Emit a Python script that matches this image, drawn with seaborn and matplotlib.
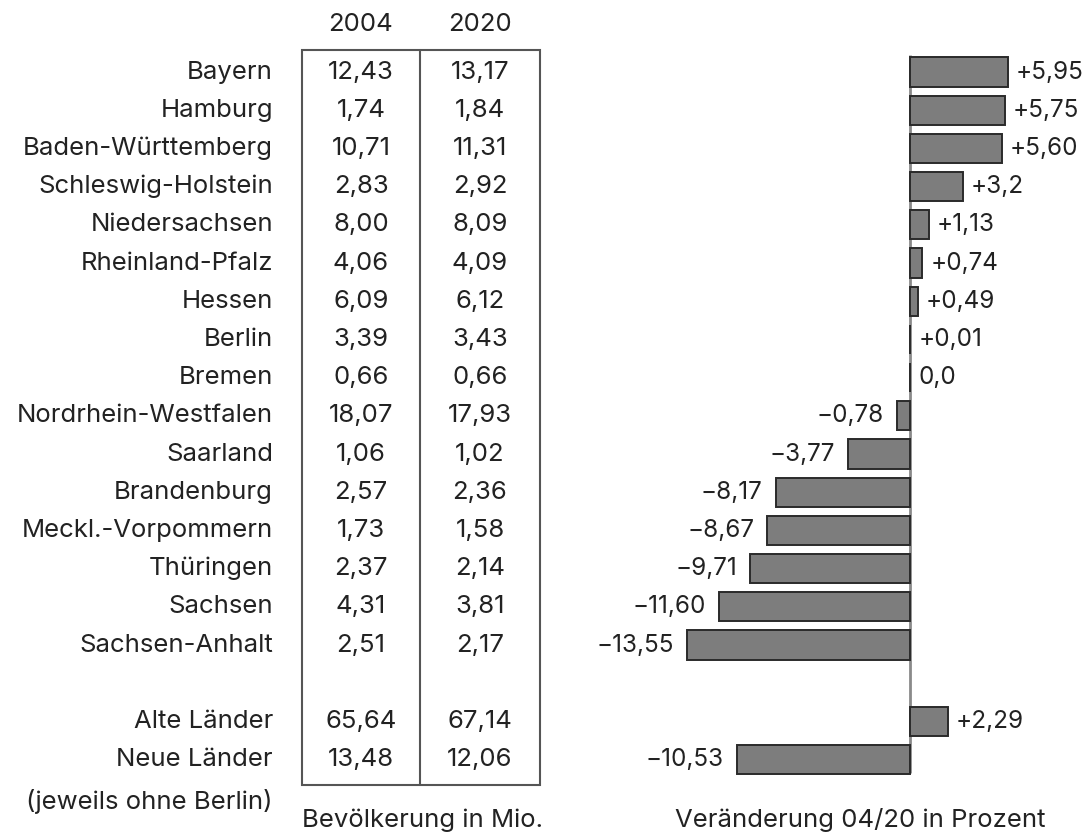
import numpy as np
import pandas as pd
import seaborn as sns
import matplotlib.pyplot as plt
from matplotlib.patches import Rectangle

# Bundesländer, population in millions (2004 / 2020) and change in percent
laender = ['Bayern', 'Hamburg', 'Baden-Württemberg', 'Schleswig-Holstein',
           'Niedersachsen', 'Rheinland-Pfalz', 'Hessen', 'Berlin', 'Bremen',
           'Nordrhein-Westfalen', 'Saarland', 'Brandenburg', 'Meckl.-Vorpommern',
           'Thüringen', 'Sachsen', 'Sachsen-Anhalt']
gruppen = ['Alte Länder', 'Neue Länder']

bev_2004 = ['12,43', '1,74', '10,71', '2,83', '8,00', '4,06', '6,09', '3,39', '0,66',
            '18,07', '1,06', '2,57', '1,73', '2,37', '4,31', '2,51']
bev_2020 = ['13,17', '1,84', '11,31', '2,92', '8,09', '4,09', '6,12', '3,43', '0,66',
            '17,93', '1,02', '2,36', '1,58', '2,14', '3,81', '2,17']
gruppen_2004 = ['65,64', '13,48']
gruppen_2020 = ['67,14', '12,06']

veraenderung = [5.95, 5.75, 5.60, 3.2, 1.13, 0.74, 0.49, 0.01, 0.0,
                -0.78, -3.77, -8.17, -8.67, -9.71, -11.60, -13.55]
gruppen_veraenderung = [2.29, -10.53]
labels_veraenderung = ['+5,95', '+5,75', '+5,60', '+3,2', '+1,13', '+0,74', '+0,49',
                       '+0,01', '0,0', '\u22120,78', '\u22123,77', '\u22128,17',
                       '\u22128,67', '\u22129,71', '\u221211,60', '\u221213,55']
gruppen_labels = ['+2,29', '\u221210,53']

sns.set_style('white')
plt.rcParams['font.family'] = ['Inter', 'DejaVu Sans']
FS = 18.5
FS_VAL = 17.5
TXT = '#222222'

W, H = 1088, 834
fig = plt.figure(figsize=(W / 100, H / 100), dpi=100)
ax = fig.add_axes([0, 0, 1, 1])

spacer = ' '
order = laender + [spacer] + gruppen
df = pd.DataFrame({'land': laender + gruppen,
                   'wert': veraenderung + gruppen_veraenderung})

sns.barplot(data=df, x='wert', y='land', order=order, orient='h',
            color='#7d7d7d', saturation=1, edgecolor='#2a2a2a', linewidth=1.4,
            width=0.76, ax=ax)

# pixel layout: zero line at x=910, 16.45 px per percent; first row at y=72, 38.2 px per row
x0, px_per = 910, 16.45
y0, row_h = 72, 38.2
ax.set_xlim(-x0 / px_per, (W - x0) / px_per)
ax.set_ylim((H - y0) / row_h, -y0 / row_h)
ax.axis('off')

ax.vlines(0, (55 - y0) / row_h, (773 - y0) / row_h, color='#8a8a8a', lw=2, zorder=0)

tr = ax.get_yaxis_transform()
pos = {name: i for i, name in enumerate(order)}

def px(x):
    return x / W

def py(y):
    return (y - y0) / row_h

all_names = laender + gruppen
all_2004 = bev_2004 + gruppen_2004
all_2020 = bev_2020 + gruppen_2020
all_vals = veraenderung + gruppen_veraenderung
all_labels = labels_veraenderung + gruppen_labels

for name, a, b, v, lab in zip(all_names, all_2004, all_2020, all_vals, all_labels):
    y = pos[name]
    ax.text(px(273), y, name, transform=tr, ha='right', va='center', fontsize=FS, color=TXT)
    ax.text(px(361), y, a, transform=tr, ha='center', va='center', fontsize=FS, color=TXT)
    ax.text(px(480), y, b, transform=tr, ha='center', va='center', fontsize=FS, color=TXT)
    if v < 0:
        ax.annotate(lab, (v, y), xytext=(-13, 0), textcoords='offset pixels',
                    ha='right', va='center', fontsize=FS_VAL, color=TXT)
    else:
        ax.annotate(lab, (v, y), xytext=(8, 0), textcoords='offset pixels',
                    ha='left', va='center', fontsize=FS_VAL, color=TXT)

ax.text(px(273), py(801), '(jeweils ohne Berlin)', transform=tr, ha='right',
        va='center', fontsize=FS, color=TXT)

# table box
top, bottom = py(50), py(785)
ax.add_patch(Rectangle((px(302), top), px(540 - 302), bottom - top, transform=tr,
                       fill=False, edgecolor='#555555', lw=1.5))
ax.plot([px(420), px(420)], [top, bottom], transform=tr, color='#555555', lw=1.5)

ax.text(px(361), py(24), '2004', transform=tr, ha='center', va='center', fontsize=FS, color=TXT)
ax.text(px(480), py(24), '2020', transform=tr, ha='center', va='center', fontsize=FS, color=TXT)

ax.text(px(422), py(820), 'Bevölkerung in Mio.', transform=tr, ha='center',
        va='center', fontsize=FS, color=TXT)
ax.text(px(860), py(820), 'Veränderung 04/20 in Prozent', transform=tr,
        ha='center', va='center', fontsize=FS, color=TXT)

fig.savefig('out.png', dpi=100)
